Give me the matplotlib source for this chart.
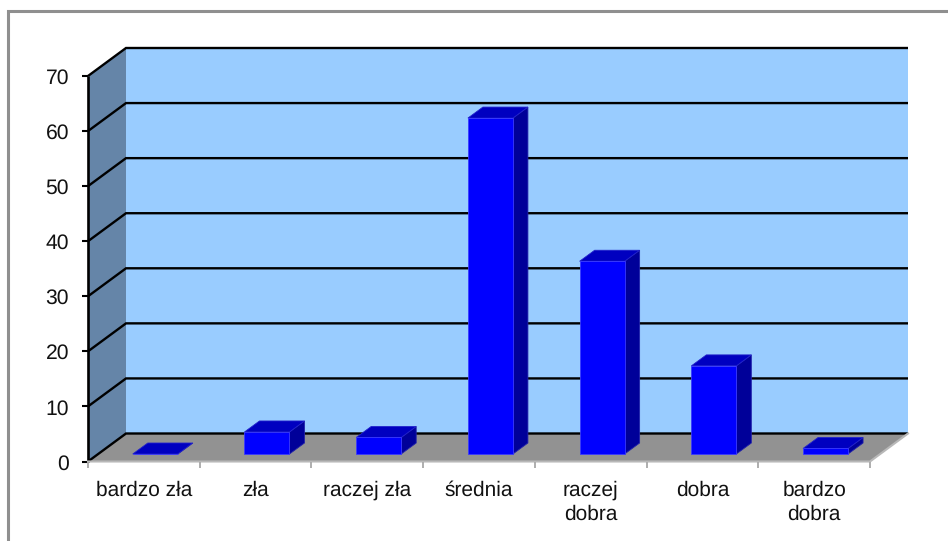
import matplotlib
matplotlib.use('Agg')
import matplotlib.pyplot as plt
from matplotlib.patches import Rectangle

plt.rcParams['font.family'] = ['Liberation Sans', 'DejaVu Sans']
plt.rcParams['text.hinting'] = 'none'

categories = ['bardzo zła', 'zła', 'raczej zła', 'średnia', 'raczej\ndobra', 'dobra', 'bardzo\ndobra']
values = [0, 4, 3, 61, 35, 16, 1]
y_ticks = [0, 10, 20, 30, 40, 50, 60, 70]

W, H = 948, 541
left, right, top, bottom = 88, 870, 76, 461.5

fig = plt.figure(figsize=(W / 100, H / 100), dpi=100)
fig.patch.set_facecolor('white')
fig.add_artist(Rectangle((7.5 / W, -0.05), (W - 5) / W, 1.05 - 11.5 / H, transform=fig.transFigure,
                         fill=False, ec='#8f8f8f', lw=2.2))

ax = fig.add_axes([left / W, 1 - bottom / H, (right - left) / W, (bottom - top) / H])
ax.set_xlim(0, 7)
ax.set_ylim(0, 70)
ax.axis('off')

px_x = 7 / (right - left)
px_y = 70 / (bottom - top)

# depth of the fake 3d box, in data units
dx = 38 * px_x
dy = 28 * px_y
# bar sits partway into the floor
bar_w = 45 * px_x
bar_dx = 15 * px_x
bar_dy = 11 * px_y
base_dx = 15 * px_x
base_dy = 7.5 * px_y

n = len(categories)
ymax = y_ticks[-1]

# back wall, side wall, floor
ax.fill([dx, n + dx, n + dx, dx], [dy, dy, ymax + dy, ymax + dy], color='#99ccff', lw=0, clip_on=False, zorder=1)
ax.fill([0, dx, dx, 0], [0, dy, ymax + dy, ymax], color='#6585a8', lw=0, clip_on=False, zorder=1)
ax.fill([0, n, n + dx, dx], [0, 0, dy, dy], color='#929292', lw=0, clip_on=False, zorder=1)

# gridlines
for t in y_ticks:
    ax.plot([0, dx, n + dx], [t, t + dy, t + dy], color='black', lw=1.7, clip_on=False, zorder=2,
            solid_joinstyle='miter', solid_capstyle='butt')
    ax.plot([-6 * px_x, 0], [t, t], color='black', lw=1.5, clip_on=False, zorder=3, solid_capstyle='butt')
    ax.text(-19 * px_x, t - 2.5 * px_y, str(t), ha='right', va='center', fontsize=15.2, color='#111111', clip_on=False)

# axis lines
ax.plot([0, 0], [0, ymax], color='black', lw=1.9, clip_on=False, zorder=3, solid_capstyle='butt')
ax.plot([0, n, n + dx], [0, 0, dy], color='#b8b8b8', lw=1.5, clip_on=False, zorder=3)
for i in range(n + 1):
    ax.plot([i, i], [0, -1.1], color='#a8a8a8', lw=1.3, clip_on=False, zorder=3, solid_capstyle='butt')

# bars
for i, v in enumerate(values):
    x0 = i + 0.5 - bar_w / 2 + base_dx - bar_dx / 2 + 0.035
    x1 = x0 + bar_w
    y0 = base_dy
    y1 = v + base_dy
    ax.fill([x1, x1 + bar_dx, x1 + bar_dx, x1], [y0, y0 + bar_dy, y1 + bar_dy, y1], color='#000099',
            lw=0.6, ec='#2222aa', clip_on=False, zorder=4)
    ax.fill([x0, x1, x1 + bar_dx, x0 + bar_dx], [y1, y1, y1 + bar_dy, y1 + bar_dy], color='#0000c0',
            lw=0.6, ec='#2222cc', clip_on=False, zorder=4)
    ax.fill([x0, x1, x1, x0], [y0, y0, y1, y1], color='#0000ff',
            lw=0.6, ec='#3a3aff', clip_on=False, zorder=5)
    ax.text(i + 0.5, -3.5, categories[i], ha='center', va='top', fontsize=15, color='#111111',
            linespacing=1.3, clip_on=False)

fig.savefig('out.png', dpi=100)
